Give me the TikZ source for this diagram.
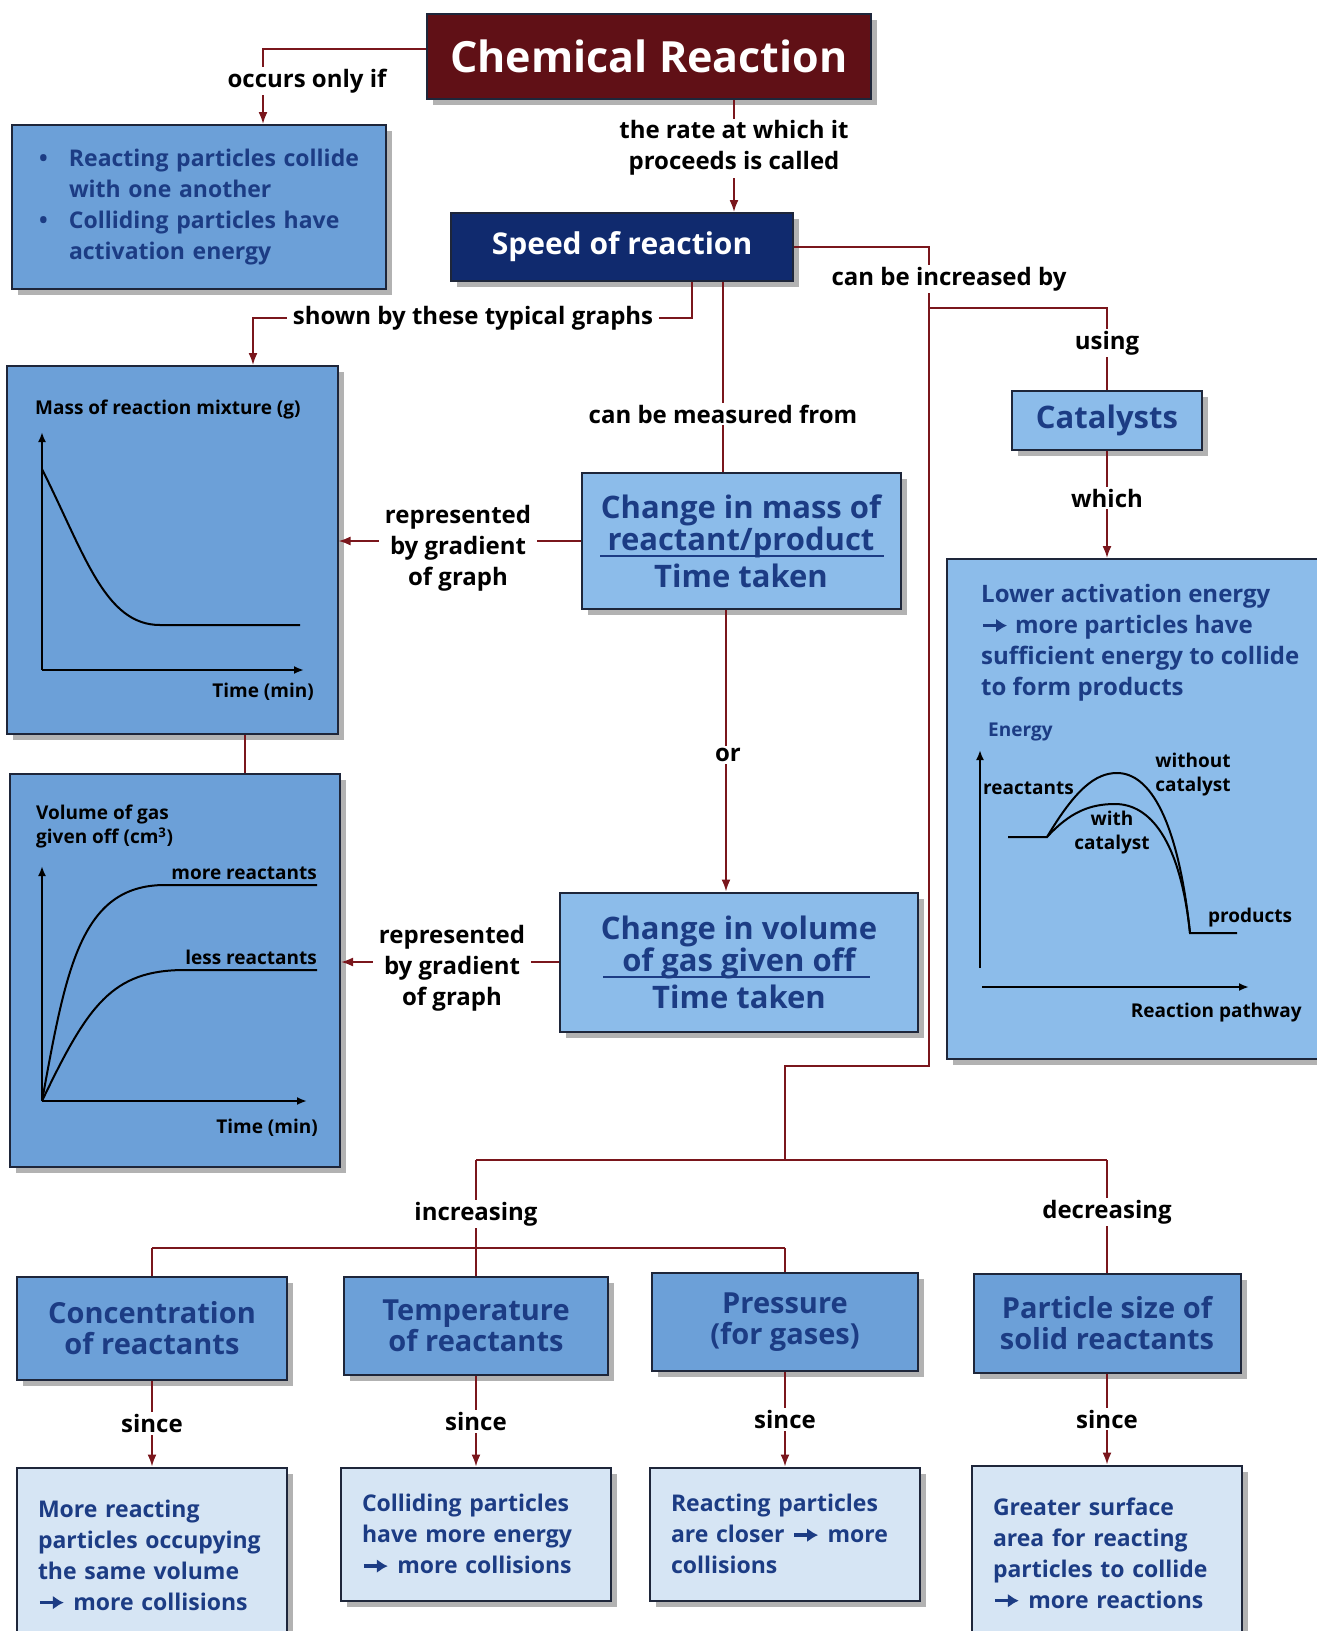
\documentclass[tikz,border=0pt]{standalone}
\usepackage{fontspec}
\setmainfont{Open Sans}
\usetikzlibrary{arrows.meta,shadows}

\definecolor{titleRed}{RGB}{96,16,22}
\definecolor{speedBlue}{RGB}{16,42,110}
\definecolor{midBlue}{RGB}{108,160,216}
\definecolor{lightBlue}{RGB}{140,188,234}
\definecolor{paleBlue}{RGB}{214,229,244}
\definecolor{textBlue}{RGB}{28,60,132}
\definecolor{linkRed}{RGB}{122,22,28}
\definecolor{edgeDark}{RGB}{30,38,58}
\newcommand{\goesto}{\tikz[baseline=-0.6ex]\draw[textBlue, line width=3.6pt,
  -{Latex[length=11pt, width=14pt]}] (0pt,0pt) -- (24pt,0pt);}

\begin{document}
\begin{tikzpicture}[x=1pt, y=-1pt,
  box/.style={draw=edgeDark, line width=2pt, align=center, inner sep=0pt,
    drop shadow={shadow xshift=6pt, shadow yshift=-6pt, fill=black, opacity=.3}},
  topic/.style={box, fill=midBlue, text=textBlue, font=\fontsize{29}{31}\selectfont\bfseries},
  expl/.style={box, fill=paleBlue, text=textBlue, font=\fontsize{23}{31}\selectfont\bfseries,
    align=left, text width=228pt, inner xsep=21pt},
  lbl/.style={fill=white, inner ysep=2pt, inner xsep=6pt, align=center,
    font=\fontsize{24}{31}\selectfont\bfseries},
  glbl/.style={font=\fontsize{19}{24}\selectfont\bfseries, inner sep=0pt, align=center},
  link/.style={draw=linkRed, line width=1.8pt},
  arr/.style={link, -{Latex[length=12pt, width=9pt]}},
  axis/.style={line width=2pt, -{Latex[length=10pt, width=8pt]}},
  curve/.style={line width=2pt}]

  \useasboundingbox (0,0) rectangle (1317,1631);
  \clip (0,0) rectangle (1317,1631);

  % Top of the map
  \node[box, fill=titleRed, text=white, font=\fontsize{43}{50}\selectfont\bfseries,
    minimum width=444pt, minimum height=85pt] (title) at (649,56) {Chemical Reaction};
  \node[box, fill=midBlue, text=textBlue, font=\fontsize{23}{31}\selectfont\bfseries,
    align=left, text width=320pt, inner xsep=27pt, minimum height=164pt] (cond) at (199,207)
    {\makebox[30pt][l]{\textbullet}Reacting particles collide\\
     \hspace*{30pt}with one another\\
     \makebox[30pt][l]{\textbullet}Colliding particles have\\
     \hspace*{30pt}activation energy};
  \node[box, fill=speedBlue, text=white, font=\fontsize{30}{34}\selectfont\bfseries,
    minimum width=342pt, minimum height=68pt] (speed) at (622,247) {Speed of reaction};
  \node[box, fill=lightBlue, text=textBlue, font=\fontsize{31}{36}\selectfont\bfseries,
    minimum width=190pt, minimum height=59pt] (catalysts) at (1107,420) {Catalysts};

  % Boxes holding the graphs
  \node[box, fill=lightBlue, minimum width=378pt, minimum height=500pt] (energy) at (1136,809) {};
  \node[box, fill=midBlue, minimum width=331pt, minimum height=368pt] (graph1) at (172,550) {};
  \node[box, fill=midBlue, minimum width=330pt, minimum height=393pt] (graph2) at (175,970) {};

  % Measuring the speed
  \node[box, fill=lightBlue, text=textBlue, font=\fontsize{31}{32}\selectfont\bfseries,
    minimum width=319pt, minimum height=136pt] (mass) at (741,541)
    {Change in mass of\\reactant/product\\[5pt]Time taken};
  \node[box, fill=lightBlue, text=textBlue, font=\fontsize{31}{32}\selectfont\bfseries,
    minimum width=358pt, minimum height=139pt] (vol) at (739,962)
    {Change in volume\\of gas given off\\[5pt]Time taken};
  \draw[textBlue, line width=2.2pt] (600,556) -- (884,556);
  \draw[textBlue, line width=2.2pt] (603,977) -- (870,977);

  % Factors
  \node[topic, minimum width=270pt, minimum height=103pt] (conc) at (152,1328) {Concentration\\of reactants};
  \node[topic, minimum width=264pt, minimum height=98pt] (temp) at (476,1326) {Temperature\\of reactants};
  \node[topic, minimum width=266pt, minimum height=98pt] (pres) at (785,1322) {Pressure\\(for gases)};
  \node[topic, minimum width=267pt, minimum height=99pt] (size) at (1107,1323) {Particle size of\\solid reactants};

  \node[expl, minimum height=175pt] (exp1) at (152,1555)
    {More reacting\\particles occupying\\the same volume\\\goesto{} more collisions};
  \node[expl, minimum height=133pt] (exp2) at (476,1534)
    {Colliding particles\\have more energy\\\goesto{} more collisions};
  \node[expl, minimum height=133pt] (exp3) at (785,1534)
    {Reacting particles\\are closer \goesto{} more\\collisions};
  \node[expl, minimum height=175pt] (exp4) at (1107,1553)
    {Greater surface\\area for reacting\\particles to collide\\\goesto{} more reactions};

  % Mass graph
  \draw[axis] (42,670) -- (42,432);
  \draw[axis] (42,670) -- (304,670);
  \draw[curve] (42,469) .. controls (85,555) and (105,625) .. (160,625) -- (300,625);
  \node[glbl, anchor=west] (massAxis) at (35,410) {Mass of reaction mixture (g)};
  \node[glbl, anchor=east] (timeAxis1) at (314,692) {Time (min)};

  % Gas graph
  \draw[axis] (42,1101) -- (42,866);
  \draw[axis] (42,1101) -- (307,1101);
  \draw[curve] (42,1101) .. controls (66,970) and (80,885) .. (165,885) -- (317,885);
  \draw[curve] (42,1101) .. controls (88,1005) and (112,970) .. (185,970) -- (317,970);
  \node[glbl, anchor=north west, align=left] (gasAxis) at (36,805) {Volume of gas\\given off (cm\textsuperscript{3})};
  \node[glbl, anchor=south east] (moreLbl) at (317,880) {more reactants};
  \node[glbl, anchor=south east] (lessLbl) at (317,965) {less reactants};
  \node[glbl, anchor=east] (timeAxis2) at (318,1128) {Time (min)};

  % Energy graph
  \node[anchor=north west, text=textBlue, font=\fontsize{24}{31}\selectfont\bfseries,
    align=left, inner sep=0pt] (actText) at (981,584)
    {Lower activation energy\\\goesto{} more particles have\\sufficient energy to collide\\to form products};
  \node[glbl, text=textBlue, anchor=west] (energyAxis) at (988,732) {Energy};
  \draw[axis] (980,968) -- (980,750);
  \draw[axis] (982,987) -- (1249,987);
  \draw[curve] (1008,837) -- (1047,837) .. controls (1075,790) and (1095,773) .. (1117,773)
    .. controls (1150,773) and (1178,820) .. (1190,933) -- (1237,933);
  \draw[curve] (1047,837) .. controls (1070,812) and (1090,804) .. (1115,804)
    .. controls (1150,804) and (1180,840) .. (1190,933);
  \node[glbl, anchor=west] (reactLbl) at (983,788) {reactants};
  \node[glbl] (withoutLbl) at (1193,775) {without\\catalyst};
  \node[glbl] (withLbl) at (1112,833) {with\\catalyst};
  \node[glbl] (prodLbl) at (1250,918) {products};
  \node[glbl, anchor=east] (pathLbl) at (1302,1013) {Reaction pathway};

  % Links from the title
  \draw[arr] ([yshift=7pt]title.west) -| ([xshift=64pt]cond.north);
  \node[lbl] (onlyIf) at (307,81) {occurs only if};
  \coordinate (rateTop) at ([xshift=85pt]title.south);
  \draw[arr] (rateTop) -- (rateTop |- speed.north);
  \node[lbl] (rateLbl) at (734,148) {the rate at which it\\proceeds is called};

  % Links from the speed
  \coordinate (graphsTop) at ([xshift=70pt]speed.south);
  \coordinate (graphsBend) at (253,318);
  \draw[arr] (graphsTop) |- (graphsBend) -- (graphsBend |- graph1.north);
  \node[lbl] (graphsLbl) at (473,318) {shown by these typical graphs};

  \coordinate (measTop) at ([xshift=101pt]speed.south);
  \draw[link] (measTop) -- (measTop |- mass.north);
  \node[lbl] (measLbl) at (723,414) {can be measured from};

  \draw[arr] (mass.west) -- (mass.west -| graph1.east);
  \node[lbl] (gradLbl1) at (458,548) {represented\\by gradient\\of graph};
  \coordinate (orTop) at ([xshift=-15pt]mass.south);
  \draw[arr] (orTop) -- (orTop |- vol.north);
  \node[lbl] (orLbl) at (728,755) {or};
  \draw[arr] (vol.west) -- (vol.west -| graph2.east);
  \node[lbl] (gradLbl2) at (452,968) {represented\\by gradient\\of graph};

  \coordinate (graphLink) at ([xshift=73pt]graph1.south);
  \draw[link] (graphLink) -- (graphLink |- graph2.north);

  % Increasing the speed
  \coordinate (incFork) at (929,308);
  \draw[link] (speed.east) -| (incFork) |- (785,1066) -- (785,1160);
  \node[lbl] (incLbl) at (949,279) {can be increased by};
  \draw[link] (incFork) -| (catalysts.north);
  \node[lbl] (usingLbl) at (1107,343) {using};
  \draw[arr] (catalysts.south) -- (catalysts.south |- energy.north);
  \node[lbl] (whichLbl) at (1107,498) {which};

  \coordinate (incTop) at (476,1160);
  \coordinate (decTop) at (1107,1160);
  \coordinate (incBar) at (476,1248);
  \draw[link] (incTop) -- (decTop);
  \draw[link] (incTop) -- (incBar);
  \node[lbl] (increasing) at (476,1214) {increasing};
  \draw[link] (conc.north |- incBar) -- (pres.north |- incBar);
  \foreach \n in {conc,temp,pres}
    \draw[link] (\n.north |- incBar) -- (\n.north);
  \draw[link] (decTop) -- (size.north);
  \node[lbl] (decreasing) at (1107,1212) {decreasing};

  \foreach \a/\b in {conc/exp1,temp/exp2,pres/exp3,size/exp4}
    \draw[arr] (\a.south) -- node[lbl] (since\a) {since} (\b.north);
\end{tikzpicture}
\end{document}
